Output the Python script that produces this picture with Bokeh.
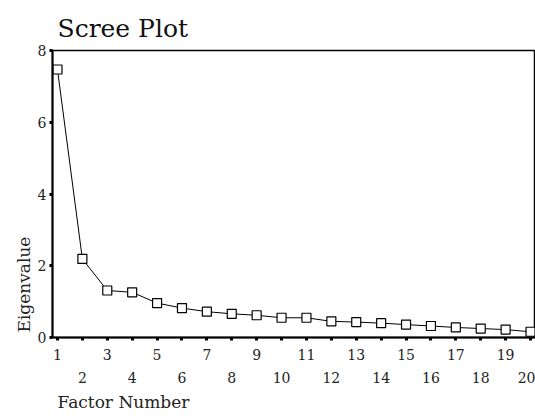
from bokeh.plotting import figure
from bokeh.models import LinearAxis, FixedTicker, Title, Range1d, ColumnDataSource
from bokeh.embed import file_html
from bokeh.resources import INLINE

# ---- data ----
factors = list(range(1, 21))
eigenvalues = [7.47, 2.19, 1.31, 1.26, 0.96, 0.82, 0.72, 0.66, 0.62, 0.55,
               0.55, 0.45, 0.43, 0.40, 0.36, 0.32, 0.28, 0.25, 0.22, 0.16]
odd_ticks = [1, 3, 5, 7, 9, 11, 13, 15, 17, 19]
even_ticks = [2, 4, 6, 8, 10, 12, 14, 16, 18, 20]
y_ticks = [0, 2, 4, 6, 8]

title_text = "Scree Plot"
x_label = "Factor Number"
y_label = "Eigenvalue"

FONT = "DejaVu Serif"

src = ColumnDataSource(dict(x=factors, y=eigenvalues))

p = figure(width=535, height=416, output_backend="svg", toolbar_location=None,
           x_range=Range1d(0.8, 20.2), y_range=Range1d(0, 8),
           x_axis_type=None, y_axis_type=None,
           min_border_left=52, min_border_right=0,
           min_border_top=50, min_border_bottom=78)
p.background_fill_color = "white"
p.border_fill_color = "white"
p.outline_line_color = "black"
p.outline_line_width = 1.5

p.title.text = title_text
p.title.align = "left"
p.title.offset = 5
p.title.text_font = FONT
p.title.text_font_size = "25px"
p.title.text_font_style = "normal"
p.title.text_color = "#111111"
p.title.standoff = 15


def style_axis(ax, tick_out=3, standoff=6):
    ax.axis_line_color = "black"
    ax.axis_line_width = 2
    ax.major_tick_in = 0
    ax.major_tick_out = tick_out
    ax.major_tick_line_width = 3
    ax.major_tick_line_color = "black"
    ax.minor_tick_line_color = None
    ax.major_label_text_font = FONT
    ax.major_label_text_font_size = "14px"
    ax.major_label_text_color = "#222222"
    ax.major_label_standoff = standoff


# left axis
yax = LinearAxis(ticker=FixedTicker(ticks=y_ticks))
style_axis(yax, standoff=3)
p.add_layout(yax, "left")

# bottom axis: all ticks, odd labels
all_labels = {t: "" for t in even_ticks}
xax1 = LinearAxis(ticker=FixedTicker(ticks=factors), major_label_overrides=all_labels)
style_axis(xax1, standoff=8)
p.add_layout(xax1, "below")

# second row: even labels
xax2 = LinearAxis(ticker=FixedTicker(ticks=even_ticks))
style_axis(xax2, tick_out=0, standoff=9)
xax2.axis_line_color = None
xax2.major_tick_line_color = None
p.add_layout(xax2, "below")

xt = Title(text=x_label, align="left", offset=5, standoff=9,
           text_font=FONT, text_font_size="17px", text_font_style="normal",
           text_color="#222222")
p.add_layout(xt, "below")

yt = Title(text=y_label, align="left", offset=5, standoff=1,
           text_font=FONT, text_font_size="17px", text_font_style="normal",
           text_color="#222222")
p.add_layout(yt, "left")

p.line("x", "y", source=src, line_color="black", line_width=1)
p.scatter("x", "y", source=src, marker="square", size=9,
          fill_color="white", line_color="black", line_width=1.2)

open("out.html", "w").write(file_html(p, INLINE))
